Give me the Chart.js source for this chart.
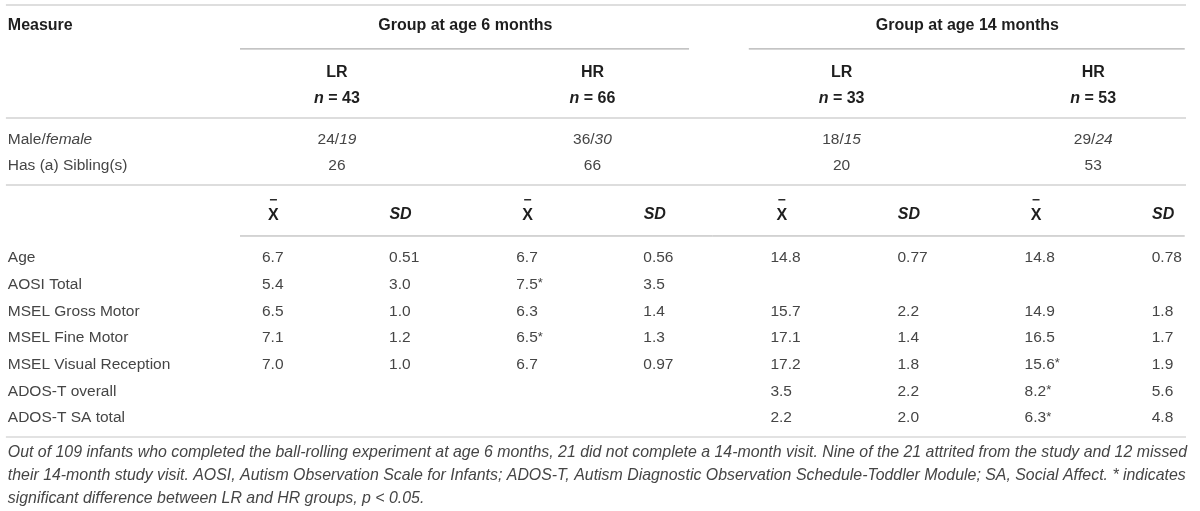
<!DOCTYPE html>
<html>
<head>
<meta charset="utf-8">
<script src="https://cdn.jsdelivr.net/npm/chart.js@4.4.1/dist/chart.umd.min.js"></script>
<style>
	html, body { margin: 0; padding: 0; background: #fff; }
	#wrap { width: 1200px; height: 511px; }
</style>
</head>
<body>
<div id="wrap"><canvas id="table" width="1200" height="511"></canvas></div>
<script>
// table content
const measures = ['Age', 'AOSI Total', 'MSEL Gross Motor', 'MSEL Fine Motor', 'MSEL Visual Reception', 'ADOS-T overall', 'ADOS-T SA total']
const ageGroups = ['Group at age 6 months', 'Group at age 14 months']
const riskGroups = ['LR', 'HR', 'LR', 'HR']
const groupN = [43, 66, 33, 53]
const male = [24, 36, 18, 29]
const female = [19, 30, 15, 24]
const siblings = [26, 66, 20, 53]
const statLabels = ['mean', 'SD', 'mean', 'SD', 'mean', 'SD', 'mean', 'SD']

const lr6Mean = ['6.7', '5.4', '6.5', '7.1', '7.0', null, null]
const lr6SD = ['0.51', '3.0', '1.0', '1.2', '1.0', null, null]
const hr6Mean = ['6.7', '7.5*', '6.3', '6.5*', '6.7', null, null]
const hr6SD = ['0.56', '3.5', '1.4', '1.3', '0.97', null, null]
const lr14Mean = ['14.8', null, '15.7', '17.1', '17.2', '3.5', '2.2']
const lr14SD = ['0.77', null, '2.2', '1.4', '1.8', '2.2', '2.0']
const hr14Mean = ['14.8', null, '14.9', '16.5', '15.6*', '8.2*', '6.3*']
const hr14SD = ['0.78', null, '1.8', '1.7', '1.9', '5.6', '4.8']

const footnote = [
	'Out of 109 infants who completed the ball-rolling experiment at age 6 months, 21 did not complete a 14-month visit. Nine of the 21 attrited from the study and 12 missed',
	'their 14-month study visit. AOSI, Autism Observation Scale for Infants; ADOS-T, Autism Diagnostic Observation Schedule-Toddler Module; SA, Social Affect. * indicates',
	'significant difference between LR and HR groups, p < 0.05.'
]

const columns = [lr6Mean, lr6SD, hr6Mean, hr6SD, lr14Mean, lr14SD, hr14Mean, hr14SD]

// layout: x in column units, y in row units
const LABEL_COL = -2
const HEAD_SHIFT = 0.09
const GROUP_COL = [0.59, 2.6, 4.56, 6.54]
const AGE_COL = [1.6, 5.55]
const ROW = { age: -8.7, risk: -6.96, n: -5.96, male: -4.42, sib: -3.45, stat: -1.61 }
const RULES = [
	{ y: -9.49, from: -2.015, to: 7.27, color: '#dedede', w: 2 },
	{ y: -7.84, from: -0.173, to: 3.36, color: '#9c9c9c', w: 1 },
	{ y: -7.84, from: 3.83, to: 7.26, color: '#9c9c9c', w: 1 },
	{ y: -5.25, from: -2.015, to: 7.27, color: '#d2d2d2', w: 1.5 },
	{ y: -2.74, from: -2.015, to: 7.27, color: '#d2d2d2', w: 1.5 },
	{ y: -0.825, from: -0.173, to: 7.26, color: '#ababab', w: 1 },
	{ y: 6.71, from: -2.015, to: 7.27, color: '#d8d8d8', w: 1.5 }
]
const NOTE_ROWS = [7.31, 8.17, 9.03]

const FAM = '"Liberation Sans", Arial, Helvetica, sans-serif'
const F = {
	reg: `15.5px ${FAM}`,
	ital: `italic 15.5px ${FAM}`,
	bold: `bold 16px ${FAM}`,
	boldItal: `italic bold 16px ${FAM}`,
	star: `13px ${FAM}`,
	note: `italic 15.9px ${FAM}`
}
const TEXT = '#454545'
const HEAD = '#1e1e1e'

function drawRich(ctx, parts, x, y, align) {
	let total = 0
	parts.forEach(p => {
		ctx.font = p.f
		p.w = ctx.measureText(p.t).width
		total += p.w
	})
	let cx = align === 'center' ? x - total / 2 : x
	parts.forEach(p => {
		ctx.font = p.f
		ctx.fillStyle = p.c || TEXT
		ctx.textAlign = 'left'
		ctx.fillText(p.t, cx, y + (p.dy || 0))
		cx += p.w
	})
}

function valueParts(v, font) {
	const parts = [{ t: v.replace('*', ''), f: font }]
	if (v.indexOf('*') >= 0) parts.push({ t: '*', f: F.star, dy: -1 })
	return parts
}

const tablePlugin = {
	id: 'tableText',
	afterDatasetsDraw(chart) {
		const ctx = chart.ctx
		const xs = chart.scales.x
		const ys = chart.scales.y
		const px = v => xs.getPixelForValue(v)
		const py = v => ys.getPixelForValue(v)
		ctx.save()
		ctx.textBaseline = 'middle'

		// rules
		RULES.forEach(r => {
			ctx.strokeStyle = r.color
			ctx.lineWidth = r.w
			ctx.beginPath()
			ctx.moveTo(px(r.from), py(r.y))
			ctx.lineTo(px(r.to), py(r.y))
			ctx.stroke()
		})

		// header block
		drawRich(ctx, [{ t: 'Measure', f: F.bold, c: HEAD }], px(LABEL_COL), py(ROW.age), 'left')
		ageGroups.forEach((g, i) => {
			drawRich(ctx, [{ t: g, f: F.bold, c: HEAD }], px(AGE_COL[i]), py(ROW.age), 'center')
		})
		riskGroups.forEach((g, i) => {
			const x = px(GROUP_COL[i])
			drawRich(ctx, [{ t: g, f: F.bold, c: HEAD }], x, py(ROW.risk), 'center')
			drawRich(ctx, [{ t: 'n', f: F.boldItal, c: HEAD }, { t: ' = ' + groupN[i], f: F.bold, c: HEAD }], x, py(ROW.n), 'center')
			drawRich(ctx, [{ t: male[i] + '/', f: F.reg }, { t: String(female[i]), f: F.ital }], x, py(ROW.male), 'center')
			drawRich(ctx, [{ t: String(siblings[i]), f: F.reg }], x, py(ROW.sib), 'center')
		})
		drawRich(ctx, [{ t: 'Male/', f: F.reg }, { t: 'female', f: F.ital }], px(LABEL_COL), py(ROW.male), 'left')
		drawRich(ctx, [{ t: 'Has (a) Sibling(s)', f: F.reg }], px(LABEL_COL), py(ROW.sib), 'left')

		// mean / SD header
		statLabels.forEach((s, i) => {
			const x = px(i + HEAD_SHIFT)
			const y = py(ROW.stat)
			if (s === 'mean') {
				drawRich(ctx, [{ t: 'X', f: F.bold, c: HEAD }], x, y + 1, 'center')
				ctx.fillStyle = HEAD
				ctx.fillRect(x - 3.5, y - 16, 7, 1.4)
			} else {
				drawRich(ctx, [{ t: 'SD', f: F.boldItal, c: HEAD }], x, y, 'center')
			}
		})

		// body cells, placed by the scatter points
		chart.data.datasets.forEach((ds, i) => {
			const meta = chart.getDatasetMeta(i)
			meta.data.forEach((pt, j) => {
				const cell = ds.data[j]
				drawRich(ctx, valueParts(cell.text, F.reg), pt.x, pt.y, 'left')
			})
		})

		// footnote
		footnote.forEach((line, i) => {
			drawRich(ctx, [{ t: line, f: F.note }], px(LABEL_COL), py(NOTE_ROWS[i]), 'left')
		})
		ctx.restore()
	}
}

const cellSet = (values, col) => ({
	data: values.map((v, r) => (v === null ? null : { x: col, y: r, text: v })).filter(Boolean),
	pointRadius: 0,
	pointHoverRadius: 0
})

const datasets = [cellSet(measures, LABEL_COL)].concat(columns.map((c, i) => cellSet(c, i)))

// column lefts sit at 262px + 127.1px per column, rows at 258px + 26.67px per row
const xMin = -262 / 127.1
const xMax = xMin + 1200 / 127.1
const yMin = -258 / 26.67
const yMax = yMin + 511 / 26.67

new Chart(document.getElementById('table'), {
	type: 'scatter',
	data: { datasets: datasets },
	options: {
		responsive: false,
		animation: false,
		events: [],
		layout: { padding: 0 },
		plugins: { legend: { display: false }, tooltip: { enabled: false } },
		scales: {
			x: { type: 'linear', min: xMin, max: xMax, display: false },
			y: { type: 'linear', min: yMin, max: yMax, reverse: true, display: false }
		}
	},
	plugins: [tablePlugin]
})
</script>
</body>
</html>
